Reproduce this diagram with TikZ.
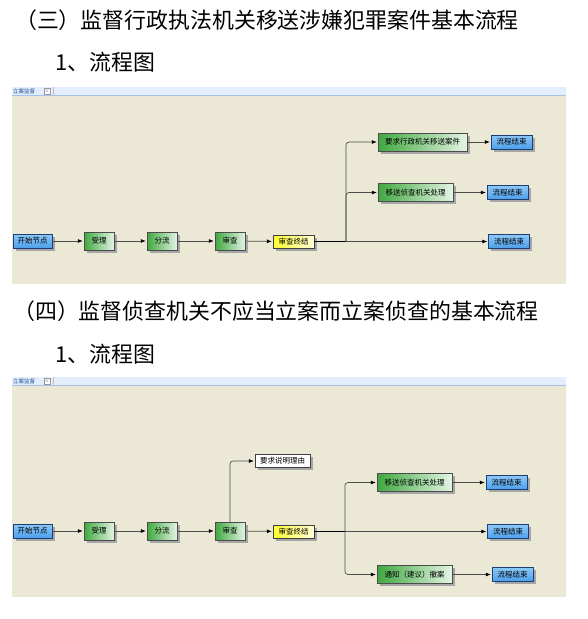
\documentclass[tikz,border=0pt]{standalone}
\usepackage{fontspec}
\newfontfamily\cjk{Noto Sans CJK SC}
\usepackage{xcolor}
\usepackage{tikz}
\usetikzlibrary{arrows.meta,positioning,shadows,calc}
\definecolor{panelbg}{HTML}{EBE9D6}
\definecolor{tabbg}{HTML}{E3EDFC}
\definecolor{tabline}{HTML}{A5C2E8}
\definecolor{tabtext}{HTML}{1F4E9A}
\definecolor{blueA}{HTML}{8CC8F8}
\definecolor{blueB}{HTML}{4C9FEA}
\definecolor{blueedge}{HTML}{1E3F73}
\definecolor{greenA}{HTML}{3FA83F}
\definecolor{greenB}{HTML}{9ED69E}
\definecolor{greenC}{HTML}{E4F4E4}
\definecolor{yellowA}{HTML}{FFFF2E}
\definecolor{yellowB}{HTML}{FFFFD8}

\begin{document}
\begin{tikzpicture}[
        x=1pt, y=-1pt,
        font=\cjk\fontsize{7.5}{9}\selectfont,
        title/.style={anchor=west, inner sep=0pt, font=\cjk\fontsize{21.9}{24}\selectfont},
        basebox/.style={
            draw=black!75, inner sep=0pt, minimum height=14pt,
            drop shadow={shadow xshift=2.5pt, shadow yshift=-2.5pt, fill=black!35, opacity=1}
        },
        startbox/.style={basebox, top color=blueA, bottom color=blueB, draw=blueedge, minimum width=39pt},
        endbox/.style={startbox, minimum width=41pt},
        taskbox/.style={basebox, left color=greenA, middle color=greenB, right color=greenC,
            draw=black!70, minimum width=30pt, minimum height=18pt},
        finalbox/.style={basebox, left color=yellowA, right color=yellowB, minimum width=41pt, minimum height=13pt},
        notebox/.style={basebox, fill=white, minimum width=55pt, minimum height=13pt},
        tablabel/.style={anchor=west, inner sep=0pt, text=tabtext, font=\cjk\fontsize{5.5}{6}\selectfont},
        closebox/.style={draw=black!40, fill=white, inner sep=0pt, minimum size=6pt,
            text=black!60, font=\fontsize{5}{5}\selectfont},
        arrow/.style={draw=black!70, line width=0.7pt, -{Latex[length=5pt,width=4pt,color=black]}, shorten >=1pt},
        branch/.style={arrow, rounded corners=3pt},
        mainline/.style={draw=black, line width=1.3pt}
    ]
    \useasboundingbox (0,0) rectangle (588,619);

    % Headings
    \node[title] (head3) at (15,20) {（三）监督行政执法机关移送涉嫌犯罪案件基本流程};
    \node[title] (sub3) at (55,62) {1、流程图};
    \node[title] (head4) at (13,311) {（四）监督侦查机关不应当立案而立案侦查的基本流程};
    \node[title] (sub4) at (55,354) {1、流程图};

    % Panel one
    \fill[panelbg] (12,95) rectangle (566,284);
    \fill[tabbg] (12,87) rectangle (566,95);
    \draw[tabline] (12,95) -- (566,95);
    \draw[black!25] (53,87) -- (53,95);
    \node[tablabel] (tab1) at (13,91) {立案监督};
    \node[closebox] (close1) at (47,91) {×};

    \node[startbox] (start1) at (32.5,241) {开始节点};
    \node[taskbox] (accept1) at (99,241) {受理};
    \node[taskbox] (divide1) at (162,241) {分流};
    \node[taskbox] (review1) at (230,241) {审查};
    \node[finalbox] (reviewend1) at (293.5,241.5) {审查终结};
    \coordinate (fork1) at (346,241.5);
    \node[taskbox, minimum width=89pt] (request1) at (422.5,142) {要求行政机关移送案件};
    \node[endbox] (finish1a) at (511.5,142) {流程结束};
    \node[taskbox, minimum width=75pt] (transfer1) at (415.5,192.5) {移送侦查机关处理};
    \node[endbox] (finish1b) at (507.5,192.5) {流程结束};
    \node[endbox] (finish1c) at (509,241.5) {流程结束};

    \draw[arrow] (start1) -- (accept1);
    \draw[arrow] (accept1) -- (divide1);
    \draw[arrow] (divide1) -- (review1);
    \draw[arrow] (review1) -- (reviewend1);
    \draw[mainline] (reviewend1) -- (fork1);
    \draw[branch] (fork1) |- (request1);
    \draw[branch] (fork1) |- (transfer1);
    \draw[arrow] (fork1) -- (finish1c);
    \draw[arrow] (request1) -- (finish1a);
    \draw[arrow] (transfer1) -- (finish1b);

    % Panel two
    \fill[panelbg] (12,385) rectangle (566,597);
    \fill[tabbg] (12,377) rectangle (566,385);
    \draw[tabline] (12,385) -- (566,385);
    \draw[black!25] (53,377) -- (53,385);
    \node[tablabel] (tab2) at (13,381) {立案监督};
    \node[closebox] (close2) at (47,381) {×};

    \node[startbox] (start2) at (32.5,531) {开始节点};
    \node[taskbox] (accept2) at (99,531) {受理};
    \node[taskbox] (divide2) at (162,531) {分流};
    \node[taskbox] (review2) at (230,531) {审查};
    \node[finalbox] (reviewend2) at (293.5,531.5) {审查终结};
    \node[notebox] (reason2) at (282.5,461) {要求说明理由};
    \coordinate (fork2) at (345,531.5);
    \node[taskbox, minimum width=75pt] (transfer2) at (414.5,482.5) {移送侦查机关处理};
    \node[endbox] (finish2a) at (506.5,482.5) {流程结束};
    \node[endbox] (finish2b) at (508,531.5) {流程结束};
    \node[taskbox, minimum width=75pt] (notify2) at (414.5,574.5) {通知（建议）撤案};
    \node[endbox] (finish2c) at (512.5,574.5) {流程结束};

    \draw[arrow] (start2) -- (accept2);
    \draw[arrow] (accept2) -- (divide2);
    \draw[arrow] (divide2) -- (review2);
    \draw[arrow] (review2) -- (reviewend2);
    \draw[branch] (review2.north) |- (reason2);
    \draw[mainline] (reviewend2) -- (fork2);
    \draw[branch] (fork2) |- (transfer2);
    \draw[arrow] (fork2) -- (finish2b);
    \draw[branch] (fork2) |- (notify2);
    \draw[arrow] (transfer2) -- (finish2a);
    \draw[arrow] (notify2) -- (finish2c);

\end{tikzpicture}
\end{document}
